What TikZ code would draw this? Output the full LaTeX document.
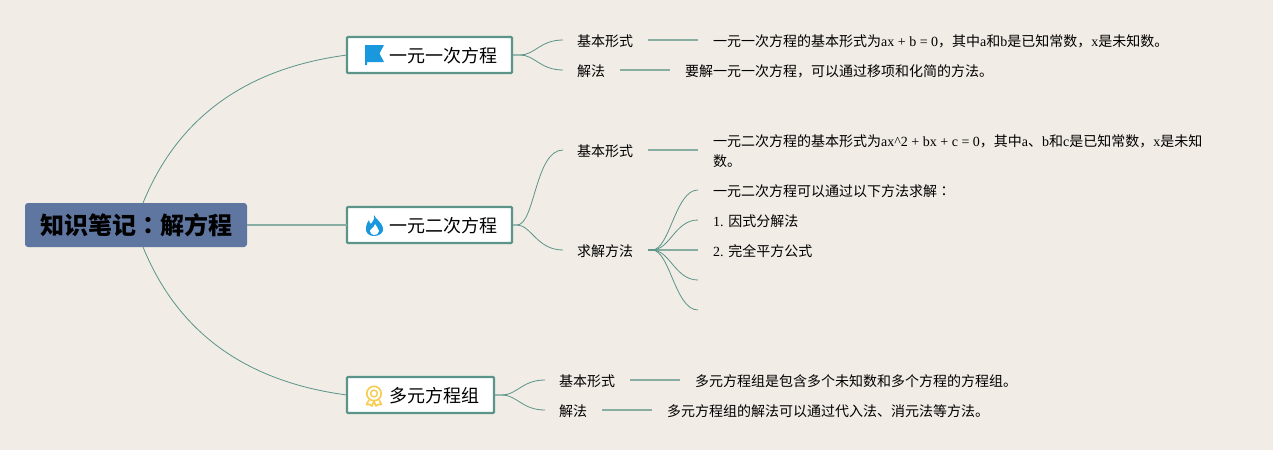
\documentclass[tikz,border=0pt]{standalone}
\usepackage{fontspec}
\setmainfont{Liberation Serif}
\newfontfamily\cjk{Noto Sans CJK SC}
\newfontfamily\cjktc{Noto Sans CJK TC}
\newcommand{\zh}[1]{{\cjk #1}}
\newcommand{\fc}{{\cjk\char"FF0C\relax}}
\newcommand{\fcolon}{{\cjktc\char"FF1A\relax}}
\definecolor{bgc}{HTML}{F1ECE6}
\definecolor{teal}{HTML}{5B9488}
\definecolor{rootc}{HTML}{5F76A1}
\definecolor{flagc}{HTML}{1A98DE}
\definecolor{medalc}{HTML}{F7CB4D}
\tikzset{
 x=1pt,y=-1pt,
 rootbox/.style={draw=none,fill=rootc,rounded corners=3pt,minimum width=222pt,minimum height=44pt,inner sep=0pt,outer sep=0pt,font=\cjk\bfseries\fontsize{24}{28}\selectfont,text=black},
 topicbox/.style={draw=teal,line width=2.2pt,fill=white,rounded corners=1pt,minimum height=36pt,inner sep=0pt,outer sep=0pt,anchor=west},
 topictext/.style={inner sep=0pt,anchor=west,font=\cjk\fontsize{18}{22}\selectfont,text=black},
 plain/.style={inner sep=0pt,anchor=west,font=\fontsize{14}{20}\selectfont,text=black},
 conn/.style={draw=teal,line width=0.8pt},
 connthick/.style={draw=teal!70!bgc,line width=1.2pt},
}
\begin{document}
\begin{tikzpicture}
\useasboundingbox[fill=bgc] (0,0) rectangle (1273,450);
% coordinates for connector ends
\coordinate (rt) at (143,203); \coordinate (rb) at (143,247);
\coordinate (a1e) at (563,40); \coordinate (a2e) at (563,70);
\coordinate (b1e) at (563,150); \coordinate (b2e) at (563,250);
\coordinate (c1e) at (545,380); \coordinate (c2e) at (545,410);
\coordinate (a1s) at (648,40); \coordinate (a1t) at (698,40);
\coordinate (a2s) at (620,70); \coordinate (a2t) at (670,70);
\coordinate (b1s) at (648,150); \coordinate (b1t) at (698,150);
\coordinate (b2s) at (648,250);
\coordinate (k1) at (698,190); \coordinate (k2) at (698,220); \coordinate (k3) at (698,250);
\coordinate (k4) at (698,280); \coordinate (k5) at (698,310);
\coordinate (c1s) at (630,380); \coordinate (c1t) at (680,380);
\coordinate (c2s) at (602,410); \coordinate (c2t) at (652,410);
% boxes
\node[rootbox] (root) at (136,225) {知识笔记\fcolon 解方程};
\node[topicbox,minimum width=165pt] (ta) at (347,55) {};
\node[topicbox,minimum width=165pt] (tb) at (347,225) {};
\node[topicbox,minimum width=147pt] (tc) at (347,395) {};
\node[topictext] (tat) at (389.5,56) {一元一次方程};
\node[topictext] (tbt) at (389.5,226) {一元二次方程};
\node[topictext] (tct) at (389.5,396) {多元方程组};
% connectors
\draw[conn] (rt) .. controls (177.7,117.7) and (245.7,68.3) .. (ta.west);
\draw[connthick] (root.east) -- (tb.west);
\draw[conn] (rb) .. controls (177.7,332.3) and (245.7,381.7) .. (tc.west);
\draw[conn] (ta.east) -- ++(8,0) .. controls +(15,0) and +(-23,0) .. (a1e);
\draw[conn] (ta.east) -- ++(8,0) .. controls +(15,0) and +(-23,0) .. (a2e);
\draw[conn] (tb.east) -- ++(5,0) .. controls +(18,0) and +(-28,0) .. (b1e);
\draw[conn] (tb.east) -- ++(5,0) .. controls +(14,0) and +(-26,0) .. (b2e);
\draw[conn] (tc.east) -- ++(8,0) .. controls +(15,0) and +(-23,0) .. (c1e);
\draw[conn] (tc.east) -- ++(8,0) .. controls +(15,0) and +(-23,0) .. (c2e);
\draw[connthick] (a1s) -- (a1t); \draw[connthick] (a2s) -- (a2t);
\draw[connthick] (b1s) -- (b1t);
\draw[connthick] (c1s) -- (c1t); \draw[connthick] (c2s) -- (c2t);
\draw[connthick] (b2s) -- (k3);
\foreach \k in {k1,k2,k4,k5}{
  \draw[conn] (b2s) -- ++(4,0) .. controls +(18,0) and +(-23,0) .. (\k);
}
% labels
\node[plain] (a1) at (577,41) {\zh{基本形式}};
\node[plain] (a2) at (577,71) {\zh{解法}};
\node[plain] (b1) at (577,151) {\zh{基本形式}};
\node[plain] (b2) at (577,251) {\zh{求解方法}};
\node[plain] (c1) at (559,381) {\zh{基本形式}};
\node[plain] (c2) at (559,411) {\zh{解法}};
\node[plain] (d1) at (713,41) {\zh{一元一次方程的基本形式为}ax + b = 0\fc\zh{其中}a\zh{和}b\zh{是已知常数}\fc x\zh{是未知数。}};
\node[plain] (d2) at (685,71) {\zh{要解一元一次方程}\fc\zh{可以通过移项和化简的方法。}};
\node[plain] (d3) at (713,141) {\zh{一元二次方程的基本形式为}ax\textasciicircum 2 + bx + c = 0\fc\zh{其中}a\zh{、}b\zh{和}c\zh{是已知常数}\fc x\zh{是未知}};
\node[plain] (d3b) at (713,161) {\zh{数。}};
\node[plain] (d4) at (713,191) {\zh{一元二次方程可以通过以下方法求解}\fcolon};
\node[plain] (d5) at (713,221) {1. \zh{因式分解法}};
\node[plain] (d6) at (713,251) {2. \zh{完全平方公式}};
\node[plain] (d7) at (695,381) {\zh{多元方程组是包含多个未知数和多个方程的方程组。}};
\node[plain] (d8) at (667,411) {\zh{多元方程组的解法可以通过代入法、消元法等方法。}};
% icons
\fill[flagc] (365,45) -- (384,45) -- (379.5,53.5) -- (384,62) -- (367,62) -- (367,65) -- (365,65) -- cycle;
\fill[flagc] (374,215) .. controls (376,220) and (381,221) .. (383,228)
  .. controls (384,233) and (379,236) .. (374,236)
  .. controls (369,236) and (365,233) .. (366,227)
  .. controls (366,224) and (368,222) .. (369,220)
  .. controls (369,222) and (370,223) .. (371,224)
  .. controls (373,221) and (375,219) .. (374,215) -- cycle;
\fill[white] (375,224) .. controls (376,227) and (379,228) .. (379,231)
  .. controls (379,234) and (376,235) .. (374,235)
  .. controls (372,235) and (370,233) .. (370,231)
  .. controls (370,229) and (374,228) .. (375,224) -- cycle;
\draw[medalc,line width=1.6pt] (374,393.5) circle[radius=7.2];
\draw[medalc,line width=1.4pt] (374,393.5) circle[radius=3.4];
\draw[medalc,line width=1.6pt,line join=round] (369,400) -- (366.5,404.5) -- (370,404.5) -- (372,406) -- (374,401.5) -- (376,406) -- (378,404.5) -- (381.5,404.5) -- (379,400);
\end{tikzpicture}
\end{document}
